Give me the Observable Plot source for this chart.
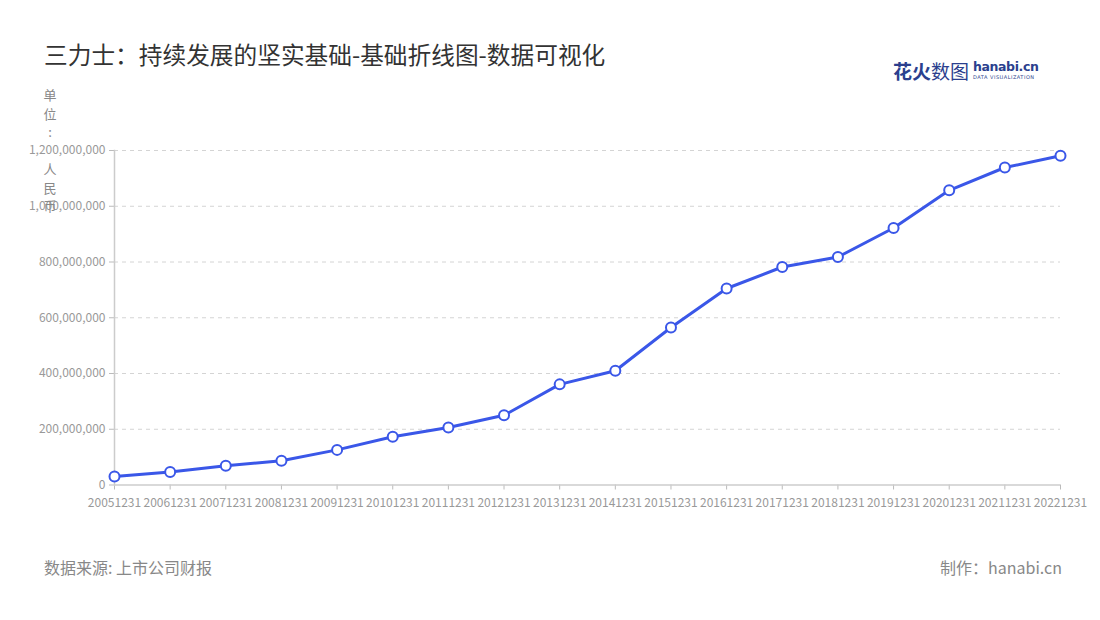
<!DOCTYPE html>
<html>
<head>
<meta charset="utf-8">
<script src="https://cdn.jsdelivr.net/npm/d3@7"></script>
<script src="https://cdn.jsdelivr.net/npm/@observablehq/plot@0.6"></script>
<style>
  html, body { margin: 0; padding: 0; background: #fff; }
  body { font-family: "Noto Sans CJK SC", "Noto Sans", sans-serif; }
  #wrap { position: relative; width: 1100px; height: 620px; overflow: hidden; }
  #title { position: absolute; left: 44px; top: 37px; font-size: 23.7px; color: #333; white-space: nowrap; }
  #ylabel { position: absolute; left: 42px; top: 86px; width: 16px; font-size: 13px; color: #888; line-height: 18.5px; text-align: center; }
  #chart { position: absolute; left: 0; top: 0; }
  #source { position: absolute; left: 44px; top: 555px; font-size: 16px; color: #888; }
  #maker { position: absolute; right: 38px; top: 555px; font-size: 16px; color: #888; }
  #logo { position: absolute; left: 893px; top: 58px; height: 26px; white-space: nowrap; color: #2b3f8e; }
  #logo .cn { font-size: 19px; font-weight: bold; vertical-align: top; line-height: 26px; }
  #logo .cn2 { font-weight: normal; }
  #logo .en { display: inline-block; vertical-align: top; margin-left: 4px; margin-top: 2px; }
  #logo .en1 { font-family: "DejaVu Sans", sans-serif; font-size: 12.5px; font-weight: bold; line-height: 14px; letter-spacing: -0.4px; }
  #logo .en2 { font-family: "DejaVu Sans", sans-serif; font-size: 5px; line-height: 7px; letter-spacing: 0.5px; }
</style>
</head>
<body>
<div id="wrap">
  <div id="chart"></div>
  <div id="title">三力士：持续发展的坚实基础-基础折线图-数据可视化</div>
  <div id="ylabel"></div>
  <div id="logo"><span class="cn">花火<span class="cn2">数图</span></span><span class="en"><div class="en1">hanabi.cn</div><div class="en2">DATA VISUALIZATION</div></span></div>
  <div id="source">数据来源: 上市公司财报</div>
  <div id="maker">制作：hanabi.cn</div>
</div>
<script>
const dates = ["20051231","20061231","20071231","20081231","20091231","20101231","20111231","20121231","20131231","20141231","20151231","20161231","20171231","20181231","20191231","20201231","20211231","20221231"];
const revenue = [30500000, 47000000, 69000000, 87000000, 126000000, 173000000, 206000000, 250000000, 361000000, 410000000, 565000000, 705000000, 782000000, 818000000, 922000000, 1057000000, 1139000000, 1181000000];
const yTicks = [0, 200000000, 400000000, 600000000, 800000000, 1000000000, 1200000000];
const yLabelChars = ["单", "位", ":", "\u00a0", "人", "民", "币"];

document.getElementById("ylabel").innerHTML = yLabelChars.map(c => `<div>${c}</div>`).join("");

const data = dates.map((d, i) => ({date: d, value: revenue[i]}));
const blue = "#3a57e8";

const chart = Plot.plot({
  width: 1100,
  height: 620,
  marginLeft: 114,
  marginRight: 40,
  marginTop: 150,
  marginBottom: 135.5,
  style: {fontFamily: "'Noto Sans CJK SC', 'Noto Sans', sans-serif", fontSize: "12px", background: "transparent"},
  x: {type: "point", domain: dates, padding: 0, round: false},
  y: {domain: [0, 1200000000]},
  marks: [
    Plot.gridY(yTicks.slice(1), {stroke: "#d4d4d4", strokeOpacity: 1, strokeDasharray: "4,4", strokeWidth: 1}),
    Plot.axisY({ticks: yTicks, tickFormat: d3.format(","), tickSize: 5, tickPadding: 4, stroke: "#bbb", color: "#999", fontSize: 12, label: null}),
    Plot.axisX({tickSize: 5, tickPadding: 8, stroke: "#bbb", color: "#999", fontSize: 12, label: null}),
    Plot.frame({anchor: "left", stroke: "#ccc", strokeWidth: 1.5}),
    Plot.ruleY([0], {stroke: "#ccc", strokeWidth: 1.5}),
    Plot.line(data, {x: "date", y: "value", stroke: blue, strokeWidth: 3}),
    Plot.dot(data, {x: "date", y: "value", r: 5, fill: "white", stroke: blue, strokeWidth: 2})
  ]
});
document.getElementById("chart").appendChild(chart);
</script>
</body>
</html>
